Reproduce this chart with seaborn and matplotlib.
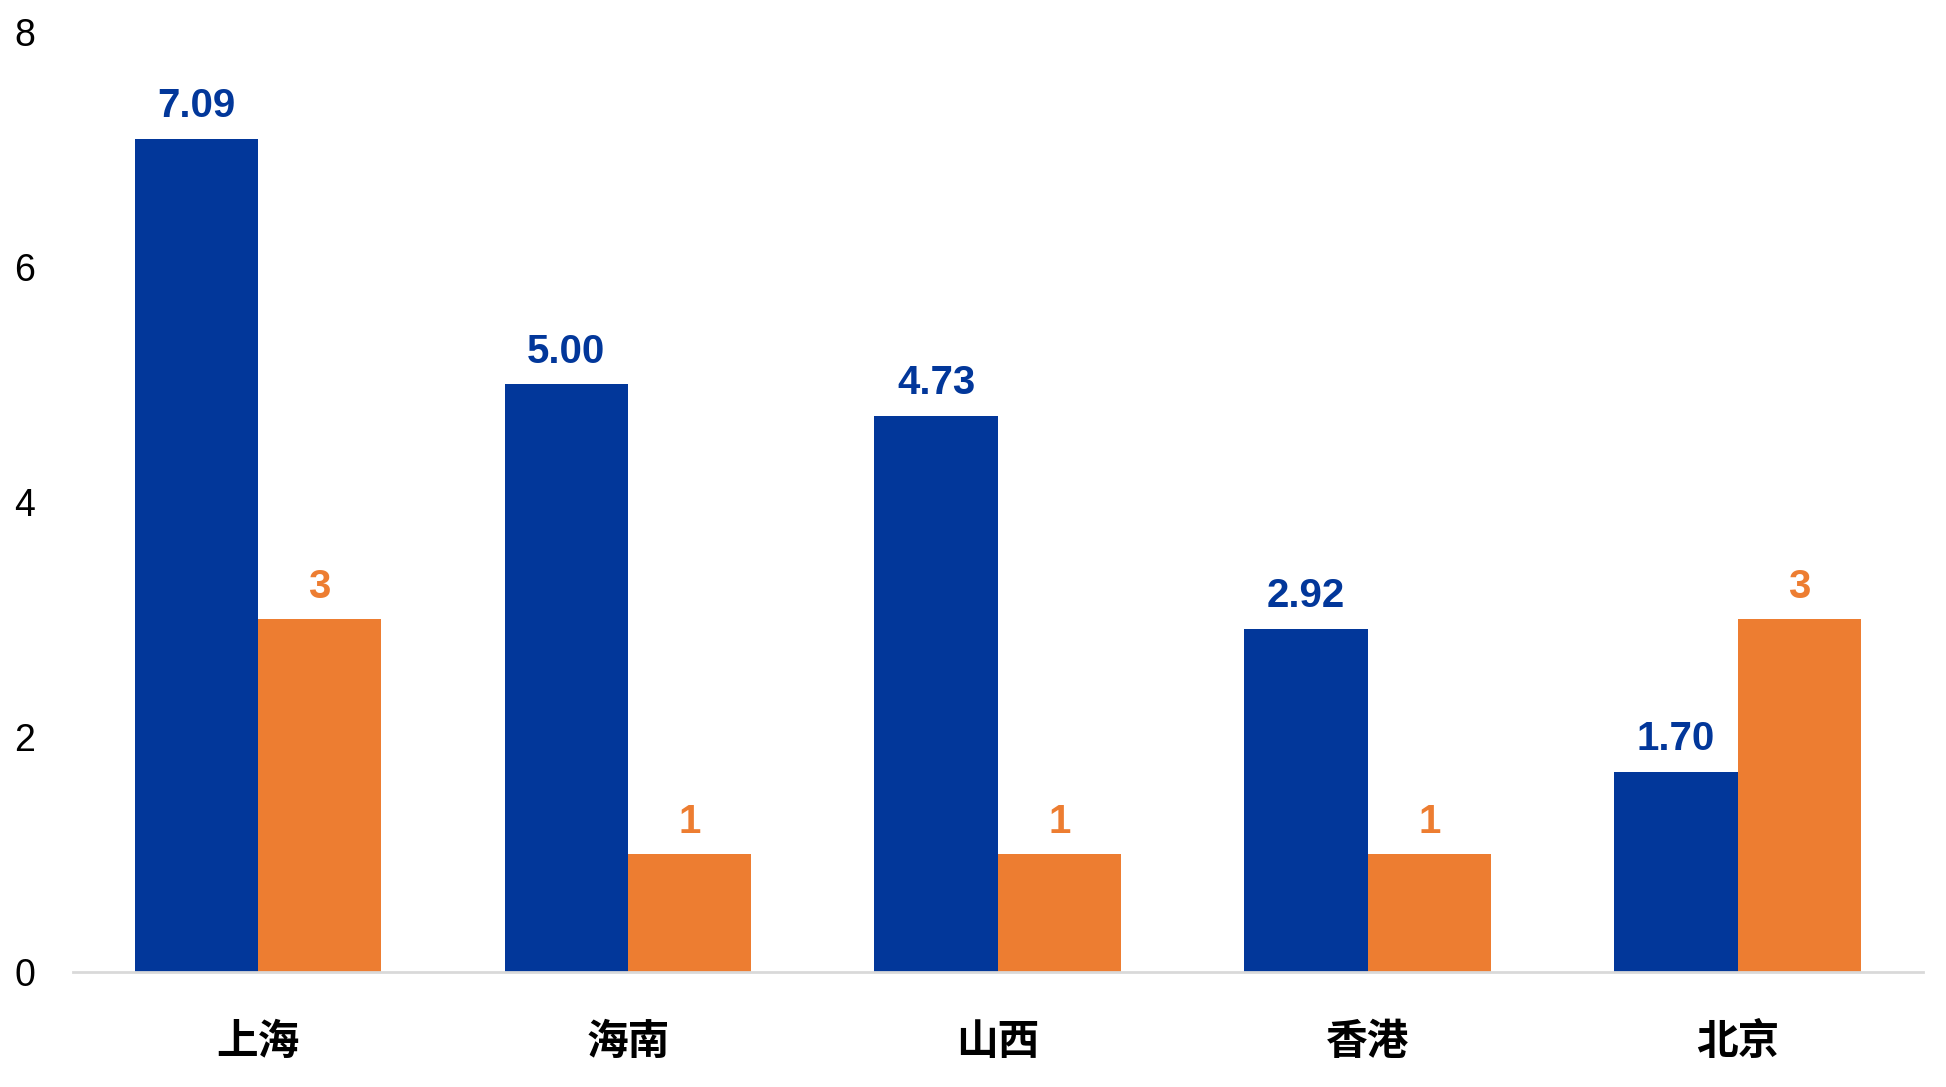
import matplotlib
matplotlib.use("Agg")
import matplotlib.pyplot as plt
import pandas as pd
import seaborn as sns


regions = ["上海", "海南", "山西", "香港", "北京"]
series_a = [7.09, 5.00, 4.73, 2.92, 1.70]
series_b = [3, 1, 1, 1, 3]
series_names = ["A", "B"]
y_ticks = [0, 2, 4, 6, 8]

blue = "#02379A"
orange = "#ED7D31"

sns.set_theme(style="white")
plt.rcParams["font.family"] = ["Liberation Sans", "Noto Sans CJK SC", "DejaVu Sans"]

df = pd.DataFrame({
    "region": regions * 2,
    "value": series_a + series_b,
    "series": [series_names[0]] * len(regions) + [series_names[1]] * len(regions),
})

fig = plt.figure(figsize=(19.46, 10.87), dpi=100)
ax = fig.add_axes([0.0375, 0.1058, 0.9505, 0.8648])

sns.barplot(
    data=df,
    x="region",
    y="value",
    hue="series",
    palette=[blue, orange],
    width=0.667,
    saturation=1,
    linewidth=0,
    legend=False,
    ax=ax,
)

ax.bar_label(ax.containers[0], fmt="%.2f", padding=10,
             color=blue, fontsize=29, fontweight="bold")
ax.bar_label(ax.containers[1], fmt="%d", padding=10,
             color=orange, fontsize=29, fontweight="bold")

ax.set_ylim(0, 8)
ax.set_xlim(-0.5, 4.5)
ax.set_yticks(y_ticks)
ax.set_xlabel("")
ax.set_ylabel("")

ax.tick_params(axis="y", length=0, pad=27, labelsize=27, labelcolor="black")
ax.tick_params(axis="x", length=0, pad=35)
for lab in ax.get_xticklabels():
    lab.set_fontfamily(["Noto Sans CJK SC", "DejaVu Sans"])
    lab.set_fontweight("heavy")
    lab.set_fontsize(30)
    lab.set_color("black")

for side in ["top", "right", "left"]:
    ax.spines[side].set_visible(False)
ax.spines["bottom"].set_color("#d9d9d9")
ax.spines["bottom"].set_linewidth(2)

fig.savefig("out.png", dpi=100)
